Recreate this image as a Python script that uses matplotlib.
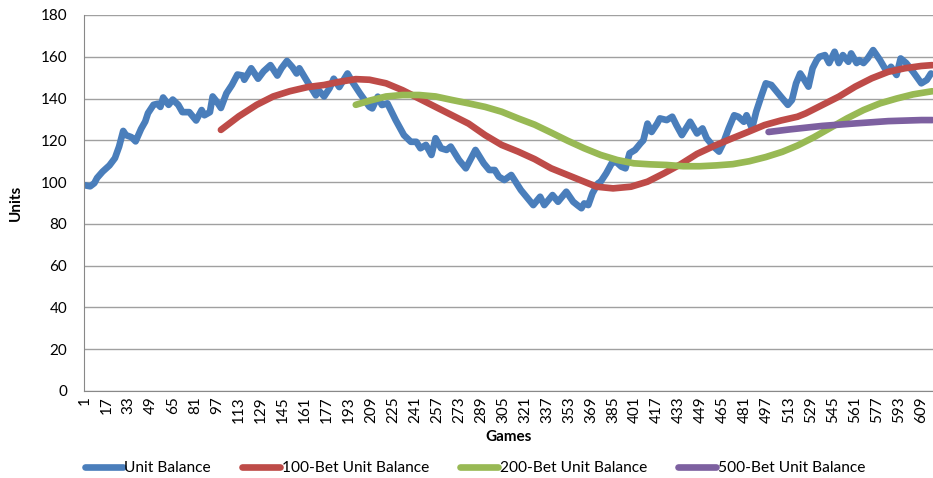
import matplotlib
matplotlib.use('Agg')
import matplotlib.pyplot as plt
import numpy as np

# values (game number, units)
ub_games = [1, 5, 8, 10, 14, 19, 23, 26, 29, 31, 35, 38, 42, 45, 47, 51, 54, 56, 58, 62,
            65, 69, 72, 77, 82, 86, 88, 92, 94, 97, 100, 104, 108, 112, 116, 117, 122, 127, 131, 136,
            141, 144, 148, 152, 155, 157, 162, 169, 171, 175, 179, 182, 186, 192, 196, 201, 208, 210, 214, 217,
            221, 227, 233, 238, 242, 245, 249, 253, 256, 260, 264, 267, 273, 278, 285, 291, 295, 299, 302, 306,
            311, 318, 323, 327, 332, 335, 341, 345, 351, 356, 359, 362, 364, 367, 370, 374, 376, 380, 384, 387,
            391, 394, 397, 401, 405, 407, 410, 413, 417, 419, 424, 428, 431, 435, 441, 446, 450, 453, 458, 462,
            465, 469, 473, 476, 480, 482, 486, 489, 493, 496, 500, 504, 507, 512, 515, 518, 521, 523, 527, 530,
            533, 535, 539, 542, 546, 549, 552, 556, 558, 562, 564, 567, 570, 574, 579, 584, 587, 591, 594, 598,
            603, 609, 613, 616]
unit_balance = [98.5, 98, 99.5, 102, 105, 108, 111.5, 117, 124.5, 122.5, 121.5, 119.5, 125.5, 129, 133, 137, 137.5, 136, 140.5, 137,
                139.5, 137, 133.5, 133.5, 129.5, 134.5, 132, 133.5, 141, 138.5, 135.5, 142.5, 146.5, 151.5, 151, 149, 154.5, 149.5, 153, 156,
                151, 154.5, 158, 155, 152, 154.5, 149, 141.5, 144, 141, 145, 149.5, 145.5, 152, 147.5, 142.5, 136, 135.3, 140.9, 136.9,
                137.7, 129.7, 122.5, 119.3, 119.3, 116.2, 117.8, 113, 121, 116.2, 115.4, 117, 110.6, 106.6, 115.4, 109, 105.8, 105.8, 102.6, 101,
                103.4, 96.2, 92.2, 89, 93, 89, 93.8, 90.6, 95.4, 90.6, 89, 87.5, 89.8, 89, 94.6, 99.4, 100.2, 104.2, 109, 109.8,
                107.4, 106.6, 113.8, 115.4, 118.6, 120, 128, 124, 128, 130.5, 129.7, 131.3, 127.3, 122.5, 128.9, 123.3, 125.7, 121, 117, 114.6,
                118.6, 125.7, 132, 131.3, 128.9, 132, 125.7, 133.7, 141.7, 147.3, 146.5, 143.3, 140.9, 137, 139.3, 147.3, 152, 150, 145.7, 154.5,
                158.4, 160, 160.8, 157, 162.4, 157, 160.8, 157.6, 161.6, 157, 158.4, 157, 159.2, 163.2, 158.4, 152.8, 155.2, 151.3, 159.2, 157,
                152.8, 147.3, 148.9, 152]

ma100_games = [100, 113, 126, 138, 150, 163, 175, 186, 198, 208, 220, 232, 244, 256, 268, 280, 292, 304, 316, 328,
               340, 352, 364, 373, 385, 398, 410, 422, 434, 446, 459, 471, 483, 495, 507, 519, 525, 537, 549, 561,
               573, 585, 597, 609, 617]
ma100 = [125, 131.5, 137, 141, 143.5, 145.5, 146.5, 148, 149.3, 149, 147.3, 144, 140, 136, 132, 128, 122.5, 117.8, 114.6, 111,
         106.6, 103.4, 100.2, 97.8, 97, 97.8, 100.2, 104.2, 108.5, 113.5, 117.5, 120.8, 124, 127.3, 129.5, 131.3, 132.9, 136.9, 140.9, 145.7,
         149.7, 152.8, 154.5, 155.6, 156]

ma200_games = [198, 208, 220, 232, 244, 256, 268, 280, 292, 304, 316, 328, 340, 352, 364, 376, 388, 400, 412, 424,
               436, 448, 460, 472, 484, 496, 508, 519, 531, 543, 555, 567, 579, 591, 603, 615, 617]
ma200 = [137, 139, 141, 141.7, 141.7, 141, 139.3, 137.7, 136, 133.7, 130.5, 127.5, 123.7, 119.8, 116.2, 113, 110.6, 109, 108.5, 108.2,
         107.6, 107.6, 108, 108.6, 110, 112, 114.5, 117.5, 121.5, 126, 130.5, 134.5, 137.7, 140, 142, 143.3, 143.5]

ma500_games = [498, 513, 537, 561, 585, 609, 617]
ma500 = [124, 125.2, 126.9, 128.1, 129.2, 129.7, 129.7]

n_games = 617
tick_games = list(range(1, n_games, 16))

plt.rcParams['font.family'] = ['Lato', 'DejaVu Sans']

fig = plt.figure(figsize=(9.33, 4.78), dpi=100)
ax = fig.add_axes([84 / 933, 1 - 391 / 478, 849 / 933, 376 / 478])

ax.plot(ub_games, unit_balance, color='#4A7EBB', lw=4.8, solid_capstyle='round', solid_joinstyle='round', label='Unit Balance')
ax.plot(ma100_games, ma100, color='#BE4B48', lw=4.8, solid_capstyle='round', label='100-Bet Unit Balance')
ax.plot(ma200_games, ma200, color='#98B954', lw=4.8, solid_capstyle='round', label='200-Bet Unit Balance')
ax.plot(ma500_games, ma500, color='#7D60A0', lw=4.8, solid_capstyle='round', label='500-Bet Unit Balance')

ax.set_xlim(0.5, n_games + 0.5)
ax.set_ylim(0, 180)
ax.set_yticks(range(0, 181, 20))
ax.set_xticks(tick_games)
ax.set_xticklabels([str(t) for t in tick_games], rotation=90, fontsize=11)
ax.tick_params(axis='y', labelsize=11, length=0, pad=12)
ax.tick_params(axis='x', length=0, pad=4)
ax.grid(axis='y', color='#A0A0A0', lw=1)
ax.set_axisbelow(True)
for s in ['top', 'right']:
    ax.spines[s].set_visible(False)
ax.spines['left'].set_color('#888888')
ax.spines['bottom'].set_color('#888888')

ax.set_xlabel('Games', fontsize=11, fontweight='bold', labelpad=5)
ax.set_ylabel('Units', fontsize=11, fontweight='bold', labelpad=13)

fig.legend(loc='center', bbox_to_anchor=(0.509, 0.02), ncol=4, frameon=False, fontsize=11.2,
           handlelength=2.45, handletextpad=0.1, columnspacing=2.0)

fig.savefig('out.png', dpi=100)
